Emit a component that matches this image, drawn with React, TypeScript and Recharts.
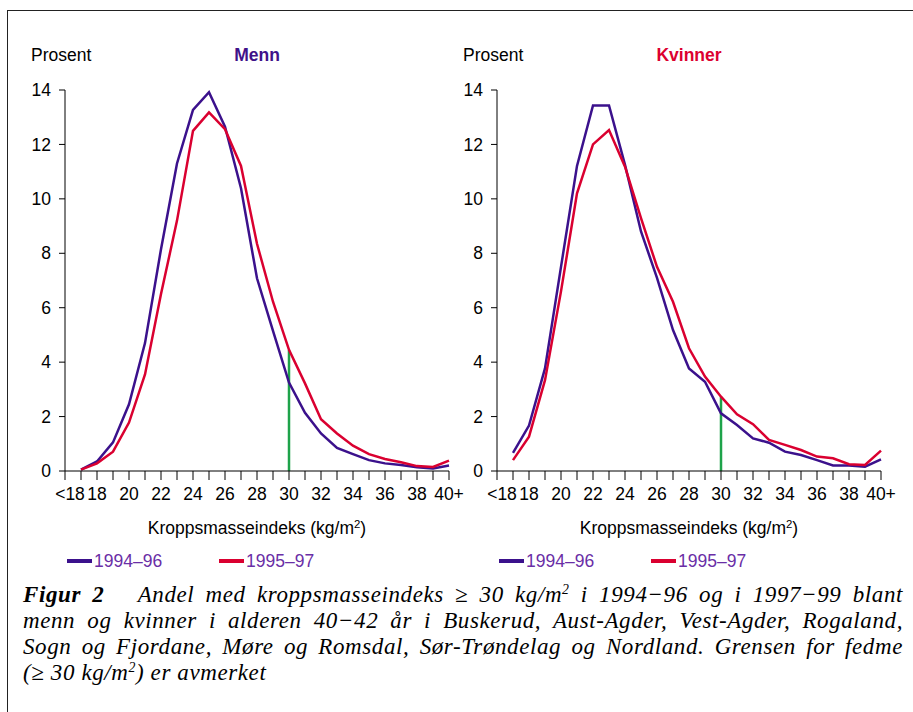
import React from "react";
import { LineChart, Line, XAxis, YAxis, ReferenceLine, Legend } from "recharts";

const categories = ["<18","18","19","20","21","22","23","24","25","26","27","28","29","30","31","32","33","34","35","36","37","38","39","40+"];
const tickLabels = ["<18","18","","20","","22","","24","","26","","28","","30","","32","","34","","36","","38","","40+"];

const menn1994 = [0.05,0.35,1.05,2.45,4.7,8.15,11.3,13.27,13.92,12.65,10.39,7.08,5.15,3.25,2.14,1.38,0.85,0.62,0.4,0.28,0.22,0.14,0.09,0.2];
const menn1995 = [0.05,0.28,0.71,1.78,3.55,6.5,9.2,12.5,13.18,12.56,11.21,8.35,6.22,4.45,3.22,1.9,1.38,0.93,0.62,0.44,0.32,0.18,0.15,0.38];
const kvinner1994 = [0.67,1.67,3.77,7.5,11.21,13.43,13.43,11.25,8.8,7.1,5.18,3.77,3.28,2.12,1.69,1.2,1.04,0.71,0.59,0.4,0.2,0.2,0.16,0.43];
const kvinner1995 = [0.4,1.26,3.34,6.6,10.2,12.0,12.53,11.18,9.29,7.5,6.22,4.51,3.47,2.73,2.08,1.72,1.14,0.96,0.77,0.53,0.47,0.25,0.22,0.75];

const yTicks = [0,2,4,6,8,10,12,14];
const seriesNames = ["1994–96", "1995–97"];
const obesityIndex = categories.indexOf("30");

const PURPLE = "#3b118c";
const RED = "#da0030";
const GREEN = "#1ea34a";
const LEGEND_TEXT = "#6a2ea6";
const FONT = "'Liberation Sans', Arial, sans-serif";
const FS = 17.5;

const W = 476;
const H = 600;
const xTicks = [-1, ...categories.map((_, i) => i)];

function XTick(props: any) {
  const { x, y, payload } = props;
  const v = payload.value;
  const label = v >= 0 ? tickLabels[v] : "";
  const shift = v === 0 ? -11 : 0;
  return (
    <text x={x + shift} y={y} dy="0.71em" textAnchor="middle" fontSize={FS} fill="#000" fontFamily={FONT}>
      {label}
    </text>
  );
}

function LegendContent(props: any) {
  const payload = props.payload || [];
  return (
    <div style={{ display: "flex", fontFamily: FONT, fontSize: FS, lineHeight: "20px" }}>
      {payload.map((p: any, k: number) => (
        <div key={k} style={{ display: "flex", alignItems: "center", width: 152 }}>
          <span style={{ display: "inline-block", width: 25, height: 4, background: p.color, marginRight: 2 }} />
          <span style={{ color: LEGEND_TEXT }}>{p.value}</span>
        </div>
      ))}
    </div>
  );
}

function Panel({ left, title, titleColor, a, b }: any) {
  const data = categories.map((c, i) => ({ i, cat: c, a: a[i], b: b[i] }));
  const redAt30 = b[obesityIndex];
  return (
    <div style={{ position: "absolute", left, top: 0, width: W, height: H, fontFamily: FONT }}>
      <LineChart width={W} height={H} data={data} margin={{ top: 90, right: W - 449, bottom: 99, left: 15 }}>
        <XAxis
          dataKey="i"
          type="number"
          domain={[-1, categories.length - 1]}
          ticks={xTicks}
          interval={0}
          tickSize={9}
          tickMargin={8}
          height={30}
          stroke="#000"
          tickLine={{ stroke: "#000" }}
          tick={<XTick />}
          allowDecimals={false}
        />
        <YAxis
          type="number"
          domain={[0, 14]}
          ticks={yTicks}
          interval={0}
          width={50}
          tickSize={6}
          tickMargin={8}
          stroke="#000"
          tick={{ fill: "#000", fontSize: FS }}
        />
        <ReferenceLine
          segment={[{ x: obesityIndex, y: 0 }, { x: obesityIndex, y: redAt30 }]}
          stroke={GREEN}
          strokeWidth={2.5}
          ifOverflow="visible"
        />
        <Line type="linear" dataKey="a" name={seriesNames[0]} stroke={PURPLE} strokeWidth={2.5} dot={false} isAnimationActive={false} />
        <Line type="linear" dataKey="b" name={seriesNames[1]} stroke={RED} strokeWidth={2.5} dot={false} isAnimationActive={false} />
        <Legend
          layout="horizontal"
          verticalAlign="middle"
          align="center"
          content={<LegendContent />}
          wrapperStyle={{ position: "absolute", left: 67, top: 551, width: 330, height: 20 }}
        />
      </LineChart>
      <div style={{ position: "absolute", left: 31, top: 44, fontSize: FS, lineHeight: "22px", color: "#000" }}>Prosent</div>
      <div style={{ position: "absolute", left: 157, width: 200, top: 44, textAlign: "center", fontSize: FS, lineHeight: "22px", fontWeight: "bold", color: titleColor }}>{title}</div>
      <div style={{ position: "absolute", left: 57, width: 400, top: 517, textAlign: "center", fontSize: FS, lineHeight: "22px", color: "#000" }}>
        Kroppsmasseindeks (kg/m<sup style={{ fontSize: "0.65em", verticalAlign: "0.55em", lineHeight: 0 }}>2</sup>)
      </div>
    </div>
  );
}

const lineStyle: React.CSSProperties = { textAlign: "justify", textAlignLast: "justify", whiteSpace: "normal" };
const supStyle: React.CSSProperties = { fontSize: "0.6em", verticalAlign: "0.6em", lineHeight: 0 };

export default function App() {
  return (
    <div style={{ position: "absolute", left: 0, top: 0, width: 913, height: 712, overflow: "hidden", background: "#fff" }}>
      <div style={{ position: "absolute", left: 7, top: 10, width: 1000, height: 900, borderLeft: "1.5px solid #222", borderTop: "1.5px solid #222" }} />
      <Panel left={0} title="Menn" titleColor="#3f1189" a={menn1994} b={menn1995} />
      <Panel left={432} title="Kvinner" titleColor="#dc0030" a={kvinner1994} b={kvinner1995} />
      <div style={{ position: "absolute", left: 23, top: 582, width: 880, fontFamily: "'Liberation Serif', 'Times New Roman', serif", fontStyle: "italic", fontSize: 23, letterSpacing: "0.6px", lineHeight: "26px", color: "#000" }}>
        <div style={lineStyle}>
          <b>Figur 2</b>&nbsp;&nbsp; Andel med kroppsmasseindeks ≥ 30 kg/m<sup style={supStyle}>2</sup> i 1994−96 og i 1997−99 blant
        </div>
        <div style={lineStyle}>menn og kvinner i alderen 40−42 år i Buskerud, Aust-Agder, Vest-Agder, Rogaland,</div>
        <div style={lineStyle}>Sogn og Fjordane, Møre og Romsdal, Sør-Trøndelag og Nordland. Grensen for fedme</div>
        <div>(≥ 30 kg/m<sup style={supStyle}>2</sup>) er avmerket</div>
      </div>
    </div>
  );
}
